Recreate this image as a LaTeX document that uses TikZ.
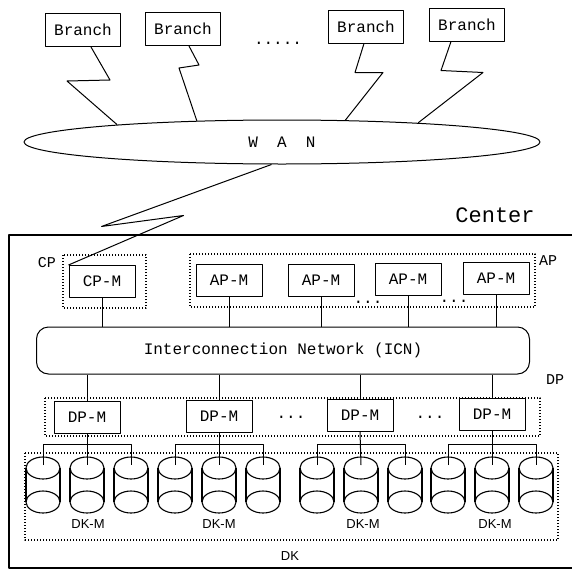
\documentclass[tikz,border=0pt]{standalone}
\usepackage{fontspec}
\newfontfamily\monofam{Liberation Mono}
\newfontfamily\sansfam{Liberation Sans}
\usetikzlibrary{shapes.geometric}

\newcommand\dgmfont{\monofam\fontsize{16}{18}\selectfont}
\newcommand\tagfont{\monofam\fontsize{15}{17}\selectfont}
\newcommand\bigfont{\monofam\fontsize{22}{26}\selectfont}
\newcommand\dkfont{\sansfam\fontsize{13}{15}\selectfont}

\tikzset{
  branch/.style={draw, line width=1pt, minimum width=75pt, minimum height=33pt,
    inner sep=0pt, font=\dgmfont},
  unit/.style={draw, line width=1pt, minimum width=66pt, minimum height=32pt,
    inner sep=0pt, font=\dgmfont},
  group/.style={line width=1.1pt, dash pattern=on 1.2pt off 1.8pt},
  link/.style={line width=1pt},
  tag/.style={inner sep=0pt, font=\tagfont},
  dots/.style={inner sep=0pt, anchor=base, font=\dgmfont},
  disk/.pic={
    \draw[line width=1.1pt] (0,0) ellipse [x radius=17, y radius=11];
    \draw[line width=1.1pt] (0,34) ellipse [x radius=17, y radius=11];
    \draw[line width=1.1pt] (-17,0) -- (-17,34) (17,0) -- (17,34);
    \coordinate (-top) at (0,-3);
  }
}

\begin{document}
\begin{tikzpicture}[x=1pt, y=-1pt, line join=round]
  \useasboundingbox (0,0) rectangle (572,570);

  % WAN with the branches
  \node[ellipse, draw, line width=1pt, minimum width=516pt, minimum height=44pt,
    inner sep=0pt, font=\dgmfont] (wan) at (282,142) {W~~A~~N};
  \node[branch] (b1) at (83,30) {Branch};
  \node[branch] (b2) at (183,29) {Branch};
  \node[branch] (b3) at (366,26.5) {Branch};
  \node[branch] (b4) at (467,24.5) {Branch};
  \node[dots] (bdots) at (278,44) {.....};

  \draw[link] ([xshift=8pt]b1.south) -- ++(19,33) -- ++(-43,1) -- (wan.174);
  \draw[link] ([xshift=6pt]b2.south) -- ++(10,19) -- ++(-20,3) -- (wan.166);
  \draw[link] ([xshift=-2pt]b3.south) -- ++(-9,29) -- ++(28,0) -- (wan.19);
  \draw[link] ([xshift=-16pt]b4.south) -- ++(-10,29) -- ++(42,2) -- (wan.8);

  % center
  \draw[line width=2pt] (575,235) -- (9,235) -- (9,568) -- (575,568);
  \node[anchor=base, inner sep=0pt, font=\bigfont] (center) at (495,222) {Center};

  % CP and AP
  \draw[group] (63,255) rectangle (146,308);
  \draw[group] (190,254) rectangle (535,307);
  \node[tag] (cp) at (47,263) {CP};
  \node[tag] (ap) at (548,261) {AP};
  \node[unit] (cpm) at (102,281.5) {CP-M};
  \foreach \i/\x/\y in {1/229/280.5,2/321/280,3/408/279.5,4/496/278.5}
    \node[unit] (apm\i) at (\x,\y) {AP-M};
  \node[dots] (apdots1) at (368,303) {...};
  \node[dots] (apdots2) at (454,302) {...};

  \draw[link] (wan.245) -- ++(-170,62) -- ++(82,-11) -- (cpm.north west);

  % interconnection network
  \node[draw, rounded corners=12pt, line width=1pt, minimum width=493pt,
    minimum height=47pt, font=\dgmfont] (icn) at (283,350.5)
    {Interconnection Network (ICN)};
  \draw[link] (cpm.south) -- (cpm.south |- icn.north);
  \foreach \i in {1,...,4}
    \draw[link] (apm\i.south) -- (apm\i.south |- icn.north);

  % DP
  \draw[group] (45,398) rectangle (540,436);
  \node[tag] (dp) at (555,380) {DP};
  \foreach \i/\x/\y in {1/87/417.5,2/219/416,3/360/415.5,4/492/414}
    \node[unit] (dpm\i) at (\x,\y) {DP-M};
  \node[dots] (dpdots1) at (291,418) {...};
  \node[dots] (dpdots2) at (430,418) {...};
  \foreach \i in {1,...,4}
    \draw[link] (dpm\i.north |- icn.south) -- (dpm\i.north);

  % DK
  \draw[group] (25,453) rectangle (558,540);
  \foreach \g/\xa/\xb/\xc in {1/43/87/131,2/175/219/263,3/317/361/405,4/448/492/536}{
    \pic (d\g1) at (\xa,468) {disk};
    \pic (d\g2) at (\xb,468) {disk};
    \pic (d\g3) at (\xc,468) {disk};
    \draw[link] (dpm\g.south) -- (d\g2-top);
    \draw[link] (d\g1-top) -- ++(0,-21) -| (d\g3-top);
  }
  \foreach \i/\x in {1/88,2/219,3/363,4/495}
    \node[font=\dkfont, inner sep=0pt] (dkm\i) at (\x,524) {DK-M};
  \node[font=\dkfont, inner sep=0pt] (dk) at (290,556) {DK};
\end{tikzpicture}
\end{document}
